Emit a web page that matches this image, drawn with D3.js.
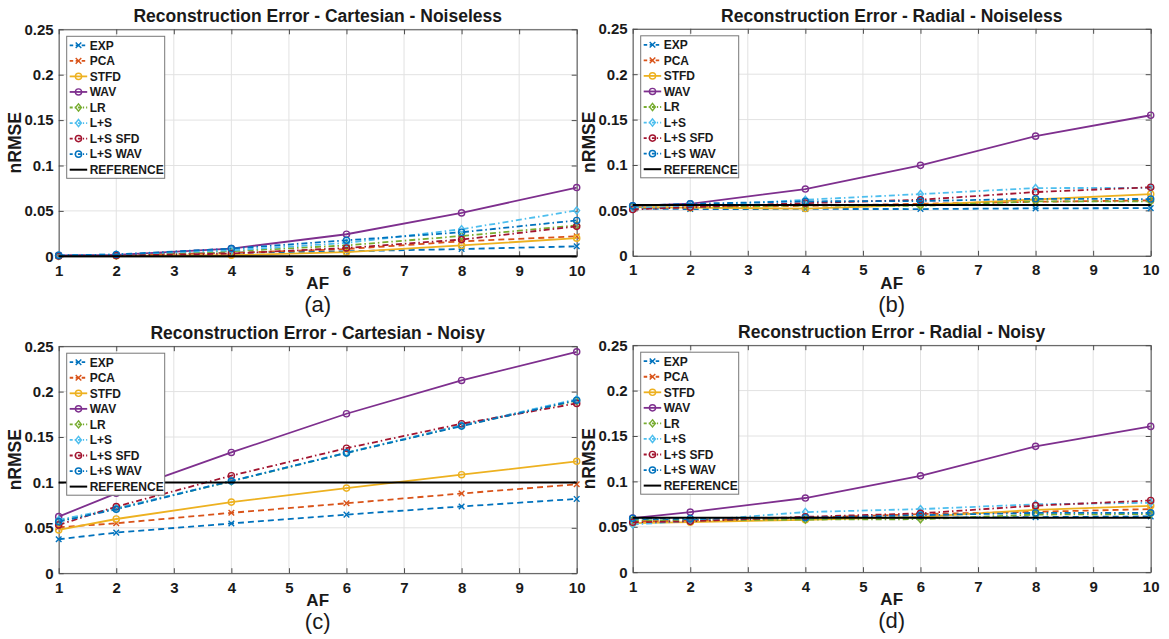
<!DOCTYPE html>
<html>
<head>
<meta charset="utf-8">
<script src="https://cdn.jsdelivr.net/npm/d3@7"></script>
<style>
  html, body { margin: 0; padding: 0; background: #fff; }
  svg { display: block; }
  text { font-family: "Liberation Sans", Arial, Helvetica, sans-serif; fill: #1a1a1a; }
</style>
</head>
<body>
<svg id="fig" width="1169" height="639"></svg>
<script>
// Acceleration factors sampled for every method
const afValues = [1, 2, 4, 6, 8, 10];

// Methods, in legend order
const methods = ["EXP", "PCA", "STFD", "WAV", "LR", "L+S", "L+S SFD", "L+S WAV"];
const referenceName = "REFERENCE";

// Axis ticks
const xTicks = [1, 2, 3, 4, 5, 6, 7, 8, 9, 10];
const yTicks = [0, 0.05, 0.1, 0.15, 0.2, 0.25];
const yTickLabels = ["0", "0.05", "0.1", "0.15", "0.2", "0.25"];

// nRMSE per method (rows follow `methods`, columns follow `afValues`)
const cartesianNoiseless = [
  [0.0005, 0.001, 0.004, 0.0055, 0.008, 0.011],
  [0.0005, 0.001, 0.0037, 0.008, 0.0165, 0.022],
  [0.0003, 0.0005, 0.0012, 0.0045, 0.012, 0.020],
  [0.001, 0.0015, 0.0085, 0.0243, 0.0478, 0.0757],
  [0.0005, 0.001, 0.0055, 0.012, 0.0224, 0.034],
  [0.001, 0.002, 0.0066, 0.0147, 0.0298, 0.0505],
  [0.0003, 0.0008, 0.003, 0.0092, 0.0184, 0.033],
  [0.001, 0.002, 0.0085, 0.0176, 0.0265, 0.0395]
];
const radialNoiseless = [
  [0.052, 0.0515, 0.0516, 0.0515, 0.0522, 0.0525],
  [0.053, 0.0535, 0.055, 0.0573, 0.0595, 0.061],
  [0.0535, 0.053, 0.052, 0.056, 0.062, 0.068],
  [0.055, 0.0573, 0.0735, 0.0996, 0.1318, 0.1548],
  [0.053, 0.0535, 0.0555, 0.055, 0.060, 0.060],
  [0.0525, 0.0545, 0.0617, 0.068, 0.0746, 0.0748],
  [0.051, 0.0535, 0.058, 0.0617, 0.0702, 0.0755],
  [0.055, 0.0573, 0.060, 0.0603, 0.0628, 0.0625]
];
const cartesianNoisy = [
  [0.0374, 0.0447, 0.0548, 0.0645, 0.0735, 0.0818],
  [0.0506, 0.055, 0.0665, 0.077, 0.0878, 0.0979],
  [0.0476, 0.0597, 0.0783, 0.0937, 0.1085, 0.1232],
  [0.0623, 0.088, 0.133, 0.1756, 0.2123, 0.2438],
  [0.0575, 0.0712, 0.1012, 0.1325, 0.1625, 0.190],
  [0.0587, 0.0715, 0.1015, 0.1328, 0.163, 0.1915],
  [0.0532, 0.0733, 0.1074, 0.1377, 0.1646, 0.187],
  [0.0568, 0.0704, 0.1015, 0.1325, 0.162, 0.1905]
];
const radialNoisy = [
  [0.0585, 0.0575, 0.0595, 0.060, 0.0607, 0.0614],
  [0.056, 0.0565, 0.060, 0.064, 0.0665, 0.0695],
  [0.054, 0.0551, 0.0577, 0.061, 0.0687, 0.0731],
  [0.0596, 0.0662, 0.0817, 0.1062, 0.1386, 0.1606],
  [0.057, 0.057, 0.058, 0.0584, 0.0635, 0.064],
  [0.0526, 0.0565, 0.0662, 0.0695, 0.0748, 0.0765],
  [0.055, 0.056, 0.061, 0.0648, 0.0733, 0.079],
  [0.0595, 0.059, 0.060, 0.0628, 0.0653, 0.0654]
];

// Reference error level in each panel
const referenceLevels = [0, 0.056, 0.1, 0.06];

const panelTitles = [
  "Reconstruction Error - Cartesian - Noiseless",
  "Reconstruction Error - Radial - Noiseless",
  "Reconstruction Error - Cartesian - Noisy",
  "Reconstruction Error - Radial - Noisy"
];
const panelTags = ["(a)", "(b)", "(c)", "(d)"];

// ---- styling ----
const methodColors = ["#0072BD", "#D95319", "#EDB120", "#7E2F8E", "#77AC30", "#4DBEEE", "#A2142F", "#0072BD"];
const methodDash = ["6,4", "6,4", null, null, "6,3,1.5,3", "6,3,1.5,3", "6,3,1.5,3", "6,3,1.5,3"];
const legendDash = ["3.5,2.5", "3.5,2.5", null, null, "3,2,1.2,2", "3,2,1.2,2", "3,2,1.2,2", "3,2,1.2,2"];
const methodMarker = ["x", "x", "o", "o", "d", "d", "o", "o"];

const svg = d3.select("#fig");
const W = 518, H = 227;
const layout = [
  { left: 58.7, top: 29.3, data: cartesianNoiseless },
  { left: 632.7, top: 28.8, data: radialNoiseless },
  { left: 58.7, top: 346.2, data: cartesianNoisy },
  { left: 632.7, top: 345.2, data: radialNoisy }
];

function markerPath(type) {
  if (type === "x") return "M-2.8,-2.8L2.8,2.8M-2.8,2.8L2.8,-2.8";
  if (type === "d") return "M0,-3.6L2.9,0L0,3.6L-2.9,0Z";
  return d3.symbol(d3.symbolCircle, 30)();
}

function drawMarker(sel, type, color) {
  sel.append("path")
    .attr("d", markerPath(type))
    .attr("fill", "none")
    .attr("stroke", color)
    .attr("stroke-width", 1.4);
}

layout.forEach((p, pi) => {
  const g = svg.append("g").attr("transform", `translate(${p.left},${p.top})`);
  const x = d3.scaleLinear().domain([1, 10]).range([0, W]);
  const y = d3.scaleLinear().domain([0, 0.25]).range([H, 0]);

  // background grid
  const grid = g.append("g").attr("stroke", "#e2e2e2").attr("stroke-width", 1);
  xTicks.forEach(t => grid.append("line").attr("x1", x(t)).attr("x2", x(t)).attr("y1", 0).attr("y2", H));
  yTicks.forEach(t => grid.append("line").attr("x1", 0).attr("x2", W).attr("y1", y(t)).attr("y2", y(t)));

  // axes with inward ticks
  const axisColor = "#4d4d4d";
  const bottom = g.append("g").attr("transform", `translate(0,${H})`)
    .call(d3.axisBottom(x).tickValues(xTicks).tickFormat(d3.format("d")).tickSizeInner(-5).tickSizeOuter(0).tickPadding(9));
  const left = g.append("g")
    .call(d3.axisLeft(y).tickValues(yTicks).tickFormat((d, i) => yTickLabels[i]).tickSizeInner(-5).tickSizeOuter(0).tickPadding(5));
  const top = g.append("g")
    .call(d3.axisTop(x).tickValues(xTicks).tickFormat("").tickSizeInner(-5).tickSizeOuter(0));
  const right = g.append("g").attr("transform", `translate(${W},0)`)
    .call(d3.axisRight(y).tickValues(yTicks).tickFormat("").tickSizeInner(-5).tickSizeOuter(0));
  [bottom, left, top, right].forEach(a => {
    a.select(".domain").attr("stroke", axisColor).attr("stroke-width", 1);
    a.selectAll(".tick line").attr("stroke", axisColor);
    a.selectAll("text").attr("fill", "#1a1a1a").style("font-size", "15px").style("font-weight", "bold")
      .style("font-family", '"Liberation Sans", Arial, sans-serif');
  });

  // method curves
  const line = d3.line().x(d => x(d[0])).y(d => y(d[1]));
  p.data.forEach((vals, mi) => {
    const pts = afValues.map((a, k) => [a, vals[k]]);
    g.append("path")
      .attr("d", line(pts))
      .attr("fill", "none")
      .attr("stroke", methodColors[mi])
      .attr("stroke-width", 1.8)
      .attr("stroke-dasharray", methodDash[mi]);
    pts.forEach(pt => {
      const m = g.append("g").attr("transform", `translate(${x(pt[0])},${y(pt[1])})`);
      drawMarker(m, methodMarker[mi], methodColors[mi]);
    });
  });

  // reference level
  g.append("path")
    .attr("d", line([[1, referenceLevels[pi]], [10, referenceLevels[pi]]]))
    .attr("fill", "none")
    .attr("stroke", "#000")
    .attr("stroke-width", 2);

  // titles and labels
  g.append("text").attr("x", W / 2).attr("y", -7).attr("text-anchor", "middle")
    .style("font-size", "17.5px").style("font-weight", "bold").text(panelTitles[pi]);
  g.append("text").attr("x", W / 2).attr("y", H + 33).attr("text-anchor", "middle")
    .style("font-size", "17px").style("font-weight", "bold").text("AF");
  g.append("text").attr("transform", `translate(-38,${H / 2}) rotate(-90)`).attr("text-anchor", "middle")
    .style("font-size", "17.5px").style("font-weight", "bold").text("nRMSE");
  g.append("text").attr("x", W / 2).attr("y", H + 56).attr("text-anchor", "middle")
    .style("font-size", "22px").style("font-weight", "normal").text(panelTags[pi]);

  // legend
  const lg = g.append("g").attr("transform", "translate(8,7)");
  lg.append("rect").attr("width", 98).attr("height", 142)
    .attr("fill", "#fff").attr("stroke", "#777").attr("stroke-width", 1);
  const entries = methods.concat([referenceName]);
  entries.forEach((name, i) => {
    const row = lg.append("g").attr("transform", `translate(0,${9 + i * 15.55})`);
    const isRef = i === methods.length;
    row.append("line").attr("x1", 3).attr("x2", 20.5).attr("y1", 0).attr("y2", 0)
      .attr("stroke", isRef ? "#000" : methodColors[i])
      .attr("stroke-width", isRef ? 2 : 1.8)
      .attr("stroke-dasharray", isRef ? null : legendDash[i]);
    if (!isRef) {
      const m = row.append("g").attr("transform", "translate(11.8,0)");
      drawMarker(m, methodMarker[i], methodColors[i]);
    }
    row.append("text").attr("x", 23).attr("y", 4.3)
      .style("font-size", "12px").style("font-weight", "bold").text(name);
  });
});
</script>
</body>
</html>
